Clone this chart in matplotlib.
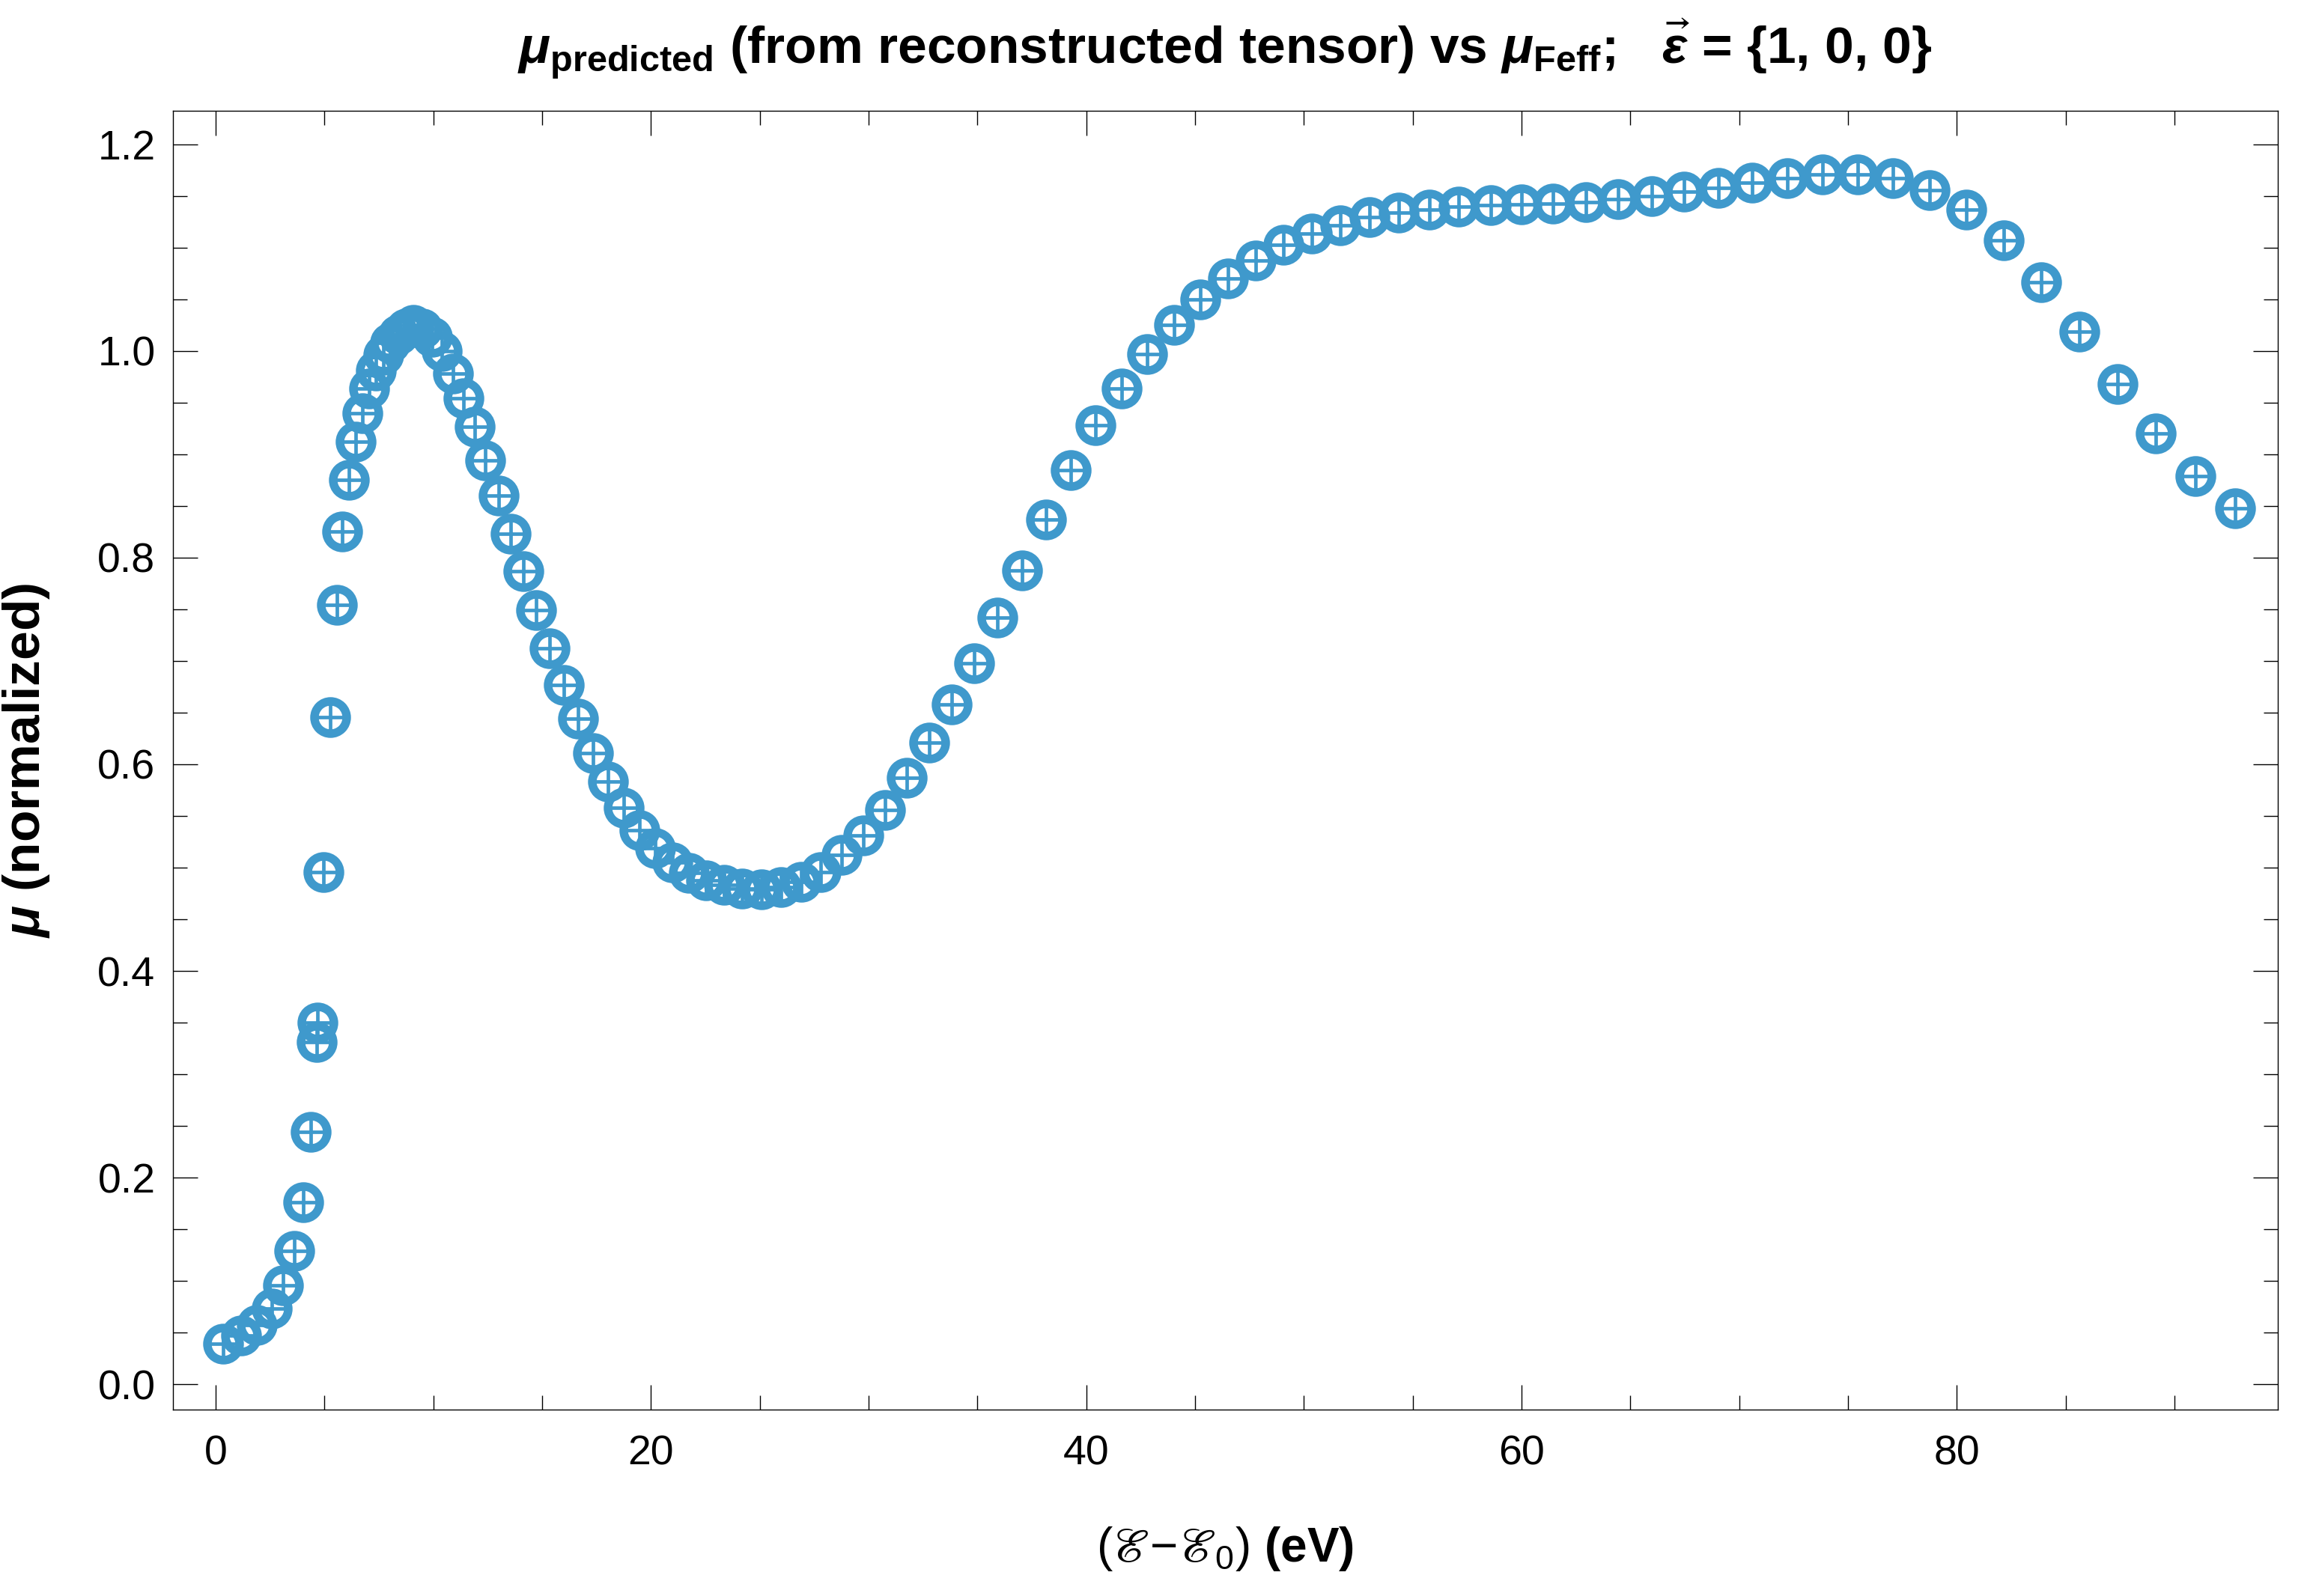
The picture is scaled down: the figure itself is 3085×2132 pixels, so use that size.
import numpy as np
import matplotlib
matplotlib.use("Agg")
import matplotlib.pyplot as plt
from matplotlib.ticker import MultipleLocator, FormatStrFormatter

# mu(E); predicted and Feff points coincide
energy = [0.35, 1.16, 1.90, 2.57, 3.11, 3.60, 4.02, 4.37, 4.66, 4.68,
          4.95, 5.27, 5.57, 5.83, 6.13, 6.43, 6.74, 7.04, 7.37, 7.69,
          8.03, 8.39, 8.73, 9.07, 9.49, 9.94, 10.40, 10.89, 11.40, 11.91,
          12.40, 12.99, 13.55, 14.14, 14.73, 15.35, 15.98, 16.65, 17.33, 18.02,
          18.75, 19.47, 20.20, 20.97, 21.74, 22.54, 23.35, 24.20, 25.07, 25.99,
          26.90, 27.78, 28.77, 29.77, 30.75, 31.74, 32.77, 33.82, 34.86, 35.93,
          37.04, 38.14, 39.28, 40.43, 41.62, 42.80, 44.03, 45.25, 46.50, 47.78,
          49.07, 50.35, 51.68, 53.02, 54.36, 55.76, 57.10, 58.60, 59.99, 61.44,
          62.95, 64.45, 65.97, 67.47, 69.05, 70.60, 72.20, 73.84, 75.45, 77.08,
          78.76, 80.45, 82.15, 83.89, 85.63, 87.39, 89.15, 90.97, 92.80]
mu_predicted = [0.039, 0.047, 0.057, 0.073, 0.096, 0.129, 0.176, 0.244, 0.331, 0.350,
                0.496, 0.646, 0.754, 0.825, 0.875, 0.912, 0.940, 0.964, 0.981, 0.996,
                1.008, 1.016, 1.022, 1.025, 1.022, 1.014, 1.000, 0.978, 0.954, 0.927,
                0.894, 0.860, 0.823, 0.787, 0.749, 0.712, 0.677, 0.644, 0.611, 0.583,
                0.558, 0.536, 0.519, 0.505, 0.495, 0.488, 0.483, 0.480, 0.479, 0.481,
                0.486, 0.496, 0.512, 0.531, 0.556, 0.587, 0.621, 0.658, 0.698, 0.742,
                0.788, 0.837, 0.885, 0.928, 0.964, 0.997, 1.025, 1.050, 1.070, 1.088,
                1.103, 1.114, 1.122, 1.130, 1.134, 1.137, 1.140, 1.141, 1.142, 1.143,
                1.144, 1.147, 1.150, 1.154, 1.158, 1.163, 1.167, 1.171, 1.171, 1.167,
                1.156, 1.137, 1.107, 1.067, 1.019, 0.968, 0.920, 0.879, 0.848]
mu_feff = list(mu_predicted)

blue = "#3f99cc"

plt.rcParams["font.family"] = ["Liberation Sans", "DejaVu Sans"]
plt.rcParams["mathtext.fontset"] = "custom"
plt.rcParams["mathtext.rm"] = "Liberation Sans"
plt.rcParams["mathtext.it"] = "Liberation Sans:italic:bold"
plt.rcParams["mathtext.bf"] = "Liberation Sans:bold"
plt.rcParams["mathtext.fallback"] = "stix"

fig = plt.figure(figsize=(30.85, 21.32), dpi=100)
ax = fig.add_axes([0.0749, 0.1168, 0.9111, 0.8138])

ax.plot(energy, mu_feff, linestyle="none", marker="+", markersize=25,
        markeredgewidth=3.4, color=blue, zorder=2)
ax.plot(energy, mu_predicted, linestyle="none", marker="o", markersize=31,
        markeredgewidth=8.2, markerfacecolor="none", markeredgecolor=blue, zorder=3)

ax.set_xlim(-1.96, 94.74)
ax.set_ylim(-0.0246, 1.2326)

ax.xaxis.set_major_locator(MultipleLocator(20))
ax.xaxis.set_minor_locator(MultipleLocator(5))
ax.yaxis.set_major_locator(MultipleLocator(0.2))
ax.yaxis.set_minor_locator(MultipleLocator(0.05))
ax.yaxis.set_major_formatter(FormatStrFormatter("%.1f"))

ax.tick_params(which="both", direction="in", top=True, right=True, width=1.0)
ax.tick_params(which="major", length=23.5)
ax.tick_params(which="minor", length=14)
ax.tick_params(axis="x", which="major", labelsize=40, pad=24)
ax.tick_params(axis="y", which="major", labelsize=40, pad=17)
for s in ax.spines.values():
    s.set_linewidth(1.0)

fig.text(0.5303, 0.9695,
         r"$\mu_{\mathbf{predicted}}$ (from reconstructed tensor) vs $\mu_{\mathbf{Feff}}$;   $\vec{\varepsilon}$ = {1, 0, 0}",
         ha="center", va="center", fontsize=50, fontweight="bold")
fig.text(0.5303, 0.0296, r"$(ℰ\!-\!ℰ_0)$ (eV)",
         ha="center", va="center", fontsize=46, fontweight="bold")
fig.text(0.0113, 0.5235, r"$\mu$ (normalized)", rotation=90,
         ha="center", va="center", fontsize=50, fontweight="bold")

fig.savefig("out.png", dpi=100)
